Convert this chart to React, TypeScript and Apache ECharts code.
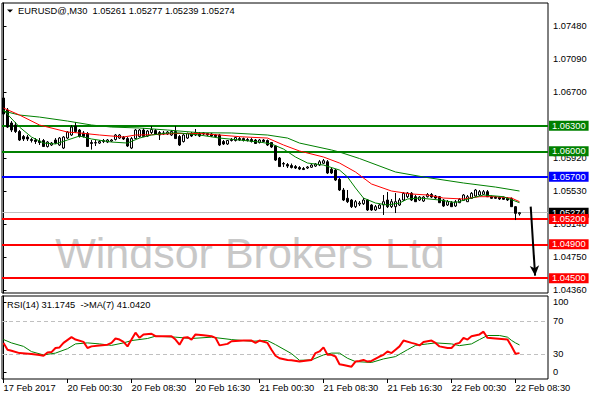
import React, { useEffect, useRef } from 'react';
import * as echarts from 'echarts';

const FONT = "'Liberation Sans', Arial, sans-serif";
const FS = 9.3;

const symbolName = 'EURUSD@,M30';
const headerOHLC = ['1.05261', '1.05277', '1.05239', '1.05274'];
const rsiHeader = 'RSI(14) 31.1745  ->MA(7) 41.0420';
const watermark = 'Windsor Brokers Ltd';

const timeLabels = ['17 Feb 2017', '20 Feb 00:30', '20 Feb 08:30', '20 Feb 16:30', '21 Feb 00:30', '21 Feb 08:30', '21 Feb 16:30', '22 Feb 00:30', '22 Feb 08:30'];
const timeLabelBars = [0, 16, 32, 48, 64, 80, 96, 112, 128];

const priceTicks = [1.0436, 1.0475, 1.0514, 1.0553, 1.0592, 1.0631, 1.067, 1.0709, 1.0748];
const rsiLabelPos = [8.4, 30, 70, 92.8];
const rsiLabelText = ['0', '30', '70', '100'];
const rsiLevels = [70, 30];

const levelPrices = [1.063, 1.06, 1.057, 1.052, 1.049, 1.045];
const levelColors = ['#008000', '#008000', '#0000ff', '#ff0000', '#ff0000', '#ff0000'];
const lastPrice = 1.05274;
const arrowFrom = [131.8, 1.05345];
const arrowTo = [132.9, 1.0453];

const openP = [
  1.06629, 1.06487, 1.06334, 1.0631, 1.06233, 1.06174, 1.06168, 1.06139, 1.06133, 1.06121,
  1.06127, 1.06056, 1.06074, 1.06133, 1.06074, 1.06038, 1.06156, 1.06192, 1.06298, 1.06251,
  1.06216, 1.0621, 1.06103, 1.06097, 1.06097, 1.06115, 1.06109, 1.06121, 1.06139, 1.06156,
  1.06168, 1.0615, 1.06038, 1.0615, 1.06174, 1.06251, 1.0618, 1.06221, 1.06245, 1.06221,
  1.06216, 1.06204, 1.06192, 1.06233, 1.06174, 1.06115, 1.06156, 1.0621, 1.06192, 1.0621,
  1.06216, 1.0621, 1.06204, 1.06192, 1.06192, 1.06115, 1.06086, 1.06139, 1.06127, 1.0615,
  1.0615, 1.06139, 1.06139, 1.06133, 1.06103, 1.06133, 1.06127, 1.06103, 1.06062, 1.0592,
  1.05855, 1.05843, 1.05831, 1.05819, 1.05808, 1.05796, 1.05802, 1.05811, 1.05825, 1.05837,
  1.05858, 1.05876, 1.05787, 1.05778, 1.05668, 1.05542, 1.05444, 1.05424, 1.05345, 1.05376,
  1.0538, 1.05424, 1.05365, 1.05306, 1.05325, 1.05365, 1.05424, 1.05345, 1.05345, 1.05365,
  1.05424, 1.05463, 1.05503, 1.05463, 1.05424, 1.05412, 1.05463, 1.05489, 1.05471, 1.05463,
  1.05424, 1.05365, 1.05392, 1.05353, 1.05392, 1.0542, 1.05404, 1.05443, 1.05471, 1.05483,
  1.05491, 1.05522, 1.05463, 1.05459, 1.05456, 1.05456, 1.05444, 1.05444, 1.05345, 1.05261,
];
const closeP = [
  1.0644, 1.06286, 1.06251, 1.06233, 1.06133, 1.06145, 1.06145, 1.06127, 1.06115, 1.06103,
  1.06056, 1.06109, 1.06097, 1.06097, 1.06156, 1.06168, 1.06227, 1.06286, 1.06233, 1.06174,
  1.06174, 1.06056, 1.06092, 1.06103, 1.06115, 1.06127, 1.06133, 1.06133, 1.06192, 1.06192,
  1.06145, 1.06062, 1.0615, 1.06251, 1.06251, 1.06174, 1.06239, 1.06257, 1.06204, 1.06192,
  1.06204, 1.06227, 1.06233, 1.0615, 1.06074, 1.06192, 1.0621, 1.0618, 1.06221, 1.0618,
  1.06204, 1.06192, 1.0618, 1.06174, 1.06074, 1.06086, 1.06127, 1.06127, 1.06162, 1.06133,
  1.06127, 1.06127, 1.06115, 1.06092, 1.06133, 1.06115, 1.06074, 1.0605, 1.05896, 1.05819,
  1.05849, 1.05825, 1.05808, 1.05802, 1.0579, 1.05784, 1.05814, 1.05837, 1.05849, 1.05876,
  1.05888, 1.05743, 1.05743, 1.0566, 1.05542, 1.05424, 1.05404, 1.05345, 1.05404, 1.05388,
  1.05424, 1.05306, 1.05306, 1.05345, 1.05365, 1.05404, 1.05345, 1.05404, 1.05404, 1.05424,
  1.05503, 1.05506, 1.05424, 1.05404, 1.05459, 1.05459, 1.05489, 1.05459, 1.05447, 1.05392,
  1.05353, 1.05404, 1.05345, 1.05404, 1.05432, 1.05483, 1.05463, 1.05503, 1.05542, 1.05522,
  1.05522, 1.05463, 1.05444, 1.05444, 1.05436, 1.05432, 1.05424, 1.05345, 1.05266, 1.05274,
];
const lowP = [
  1.06416, 1.06275, 1.06227, 1.06216, 1.06121, 1.06121, 1.06121, 1.06103, 1.06086, 1.06074,
  1.0605, 1.06044, 1.06062, 1.06086, 1.06062, 1.06026, 1.06145, 1.0618, 1.06216, 1.06162,
  1.06162, 1.0605, 1.0602, 1.06062, 1.06086, 1.06097, 1.06097, 1.06109, 1.06127, 1.06145,
  1.06133, 1.0605, 1.06026, 1.06145, 1.06162, 1.06168, 1.06168, 1.06204, 1.06192, 1.06133,
  1.06192, 1.06192, 1.0618, 1.06145, 1.06062, 1.06103, 1.06145, 1.06168, 1.0618, 1.06168,
  1.06192, 1.0618, 1.06168, 1.06162, 1.06062, 1.06074, 1.06074, 1.06115, 1.06115, 1.06121,
  1.06115, 1.06115, 1.06103, 1.06086, 1.06092, 1.06109, 1.06062, 1.06038, 1.05885, 1.05814,
  1.05814, 1.05802, 1.05796, 1.0579, 1.05778, 1.05778, 1.0579, 1.05802, 1.05814, 1.05825,
  1.05849, 1.05731, 1.05731, 1.05648, 1.0553, 1.05412, 1.05388, 1.05329, 1.05329, 1.05353,
  1.05365, 1.05294, 1.05294, 1.05294, 1.05317, 1.05247, 1.05329, 1.05329, 1.0527, 1.05353,
  1.05412, 1.05447, 1.05412, 1.054, 1.05412, 1.054, 1.05453, 1.05447, 1.05436, 1.05388,
  1.05341, 1.05353, 1.05341, 1.05341, 1.05388, 1.05412, 1.054, 1.05436, 1.05459, 1.05471,
  1.05483, 1.05459, 1.05436, 1.05436, 1.05424, 1.05424, 1.05412, 1.05341, 1.05187, 1.05239,
];
const highP = [
  1.06665, 1.06511, 1.06357, 1.06346, 1.06251, 1.06192, 1.06192, 1.06156, 1.06156, 1.06156,
  1.06145, 1.06121, 1.06109, 1.06156, 1.06168, 1.0618, 1.06239, 1.0631, 1.06346, 1.06263,
  1.06239, 1.06227, 1.06133, 1.06133, 1.06133, 1.06145, 1.06145, 1.06145, 1.06204, 1.06204,
  1.0618, 1.06168, 1.06168, 1.06263, 1.06263, 1.06275, 1.06251, 1.06298, 1.06263, 1.06239,
  1.06239, 1.06239, 1.06251, 1.06298, 1.06192, 1.06204, 1.06221, 1.06227, 1.06263, 1.06227,
  1.06227, 1.06216, 1.06216, 1.06204, 1.06204, 1.06133, 1.06133, 1.06156, 1.06168, 1.06168,
  1.06162, 1.06156, 1.06156, 1.06145, 1.06145, 1.06145, 1.06139, 1.06109, 1.06074, 1.05932,
  1.05873, 1.05861, 1.05855, 1.05837, 1.05825, 1.05814, 1.05825, 1.05849, 1.05861, 1.05896,
  1.05908, 1.05896, 1.05802, 1.0579, 1.05684, 1.05566, 1.05542, 1.05436, 1.05424, 1.05412,
  1.05447, 1.05436, 1.05376, 1.05365, 1.05376, 1.05483, 1.05518, 1.05436, 1.05506, 1.05447,
  1.05518, 1.05518, 1.05518, 1.05483, 1.05471, 1.05471, 1.05506, 1.05506, 1.05483, 1.05471,
  1.05436, 1.05424, 1.05412, 1.05424, 1.05447, 1.05495, 1.05483, 1.05518, 1.05554, 1.05542,
  1.05542, 1.05542, 1.05477, 1.05471, 1.05471, 1.05465, 1.05459, 1.05453, 1.05353, 1.05277,
];

const maRed = [
  [0, 1.06511], [4, 1.06428], [9, 1.0631], [16, 1.06227], [19, 1.06216], [24, 1.06192], [30, 1.06168],
  [33, 1.06192], [37, 1.06195], [43, 1.0621], [49, 1.0621], [54, 1.06192], [59, 1.06172], [66, 1.06156],
  [70, 1.06074], [74, 1.06003], [80, 1.05932], [84, 1.05861], [88, 1.05755], [92, 1.05613], [97, 1.0553],
  [102, 1.05495], [106, 1.05483], [110, 1.05447], [115, 1.05436], [119, 1.05463], [123, 1.05463],
  [127, 1.05447], [129, 1.05404],
];
const maFast = [
  [0, 1.06487], [4, 1.06286], [7, 1.06168], [10, 1.06097], [13, 1.06086], [16, 1.06133], [19, 1.0618],
  [22, 1.06145], [27, 1.06109], [31, 1.06097], [34, 1.06156], [37, 1.06192], [41, 1.06216], [44, 1.06216],
  [49, 1.06192], [54, 1.06156], [59, 1.06133], [64, 1.06109], [67, 1.06086], [70, 1.06026], [73, 1.05932],
  [76, 1.05861], [80, 1.05837], [84, 1.05778], [86, 1.05696], [88, 1.05566], [90, 1.05447], [93, 1.05388],
  [96, 1.05365], [99, 1.05388], [101, 1.05436], [104, 1.05447], [109, 1.05424], [113, 1.05394],
  [117, 1.05447], [120, 1.05483], [125, 1.05463], [129, 1.05392],
];
const maSlow = [
  [0, 1.06475], [4, 1.06428], [9, 1.06404], [16, 1.06357], [22, 1.0631], [27, 1.06286], [34, 1.06275],
  [41, 1.06251], [49, 1.06219], [57, 1.06216], [66, 1.06192], [71, 1.06156], [74, 1.06097], [82, 1.06015],
  [84, 1.05991], [89, 1.05914], [98, 1.05755], [105, 1.05696], [115, 1.05625], [123, 1.05577], [129, 1.0553],
];

const rsiValues = [
  [0, 43.5], [1, 35.3], [2, 34], [4, 31.2], [7, 30], [9, 29], [10, 28], [11, 32], [12, 32.4], [13, 37.4],
  [14, 38], [15, 43.5], [17, 50.4], [18, 47.5], [20, 44.7], [21, 37.4], [22, 39.3], [24, 40.5], [26, 41.4],
  [27, 43.5], [28, 48.8], [29, 47.5], [30, 44.7], [31, 39.3], [32, 47.5], [33, 55.8], [34, 49.6], [35, 53.7],
  [37, 54.5], [38, 51.6], [40, 51.6], [42, 51.6], [43, 47.5], [44, 41.4], [45, 49.6], [46, 50.4], [47, 47.5],
  [48, 53.7], [50, 52.8], [52, 51.6], [53, 49.6], [54, 40.5], [56, 42.3], [57, 45.5], [60, 46.3], [62, 46.3],
  [63, 43.5], [64, 46.3], [66, 43.5], [67, 35.3], [68, 28], [69, 25], [71, 23], [72, 22.6], [74, 21],
  [75, 21.8], [77, 23], [78, 31.2], [79, 33.2], [80, 38.1], [81, 29.1], [82, 29.1], [83, 27.1], [84, 17.7],
  [85, 16.9], [87, 14.8], [88, 21], [89, 21.8], [90, 23], [91, 21], [92, 21.8], [94, 27.1], [95, 29.1],
  [96, 33.2], [97, 31.2], [98, 35.3], [99, 39.3], [100, 46.3], [102, 43.5], [103, 42.3], [104, 40.5],
  [105, 44.7], [107, 46.3], [108, 43.5], [109, 39.3], [111, 37.4], [112, 37.4], [113, 42.3], [114, 43.5],
  [115, 49.6], [116, 47.5], [117, 51.6], [119, 53.7], [120, 57], [121, 49.6], [123, 48.8], [126, 47.5],
  [127, 39.5], [128, 30.5], [129, 31.17],
];
const rsiMaValues = [
  [0, 47.5], [2, 43.5], [5, 39.3], [7, 33], [10, 29], [13, 31.2], [16, 36.5], [18, 42.3], [21, 43.5],
  [24, 42.3], [27, 40.5], [30, 43.5], [32, 46.3], [36, 48.8], [38, 51.6], [43, 50.4], [47, 48.8], [52, 50.4],
  [57, 47.5], [62, 45.5], [66, 46.3], [68, 41.4], [72, 30.6], [74, 22.5], [77, 23], [80, 29], [82, 31.2],
  [84, 31.2], [86, 25], [88, 21], [92, 19.9], [95, 24.2], [98, 27], [101, 35.3], [103, 40.5], [106, 42.3],
  [108, 43.5], [112, 42.3], [114, 40.2], [117, 42.3], [119, 47.5], [121, 52.4], [124, 52.4], [126, 50.4],
  [127, 46.5], [128, 43.5], [129, 41.04],
];

const X_MIN = -0.375;
const X_MAX = 136.125;
const Y_MIN = 1.04325;
const Y_MAX = 1.07752;

export default function App() {
  const ref = useRef<HTMLDivElement>(null);
  useEffect(() => {
    if (!ref.current) return;
    const chart = echarts.init(ref.current, undefined, { renderer: 'svg' });
    const candleData = openP.map((o, i) => [i, o, closeP[i], lowP[i], highP[i]]);
    const levelLabel = {
      show: true,
      position: 'end',
      distance: 1,
      color: '#ffffff',
      fontSize: FS,
      fontFamily: FONT,
      lineHeight: 10,
      padding: [0, 3, 0, 3],
      formatter: (p: any) => Number(p.value).toFixed(5),
    };
    const option: any = {
      animation: false,
      backgroundColor: '#ffffff',
      textStyle: { fontFamily: FONT },
      grid: [
        { left: 2, top: 3, width: 546, height: 290, show: true, borderColor: '#000', borderWidth: 1, backgroundColor: 'transparent' },
        { left: 2, top: 296, width: 546, height: 83, show: true, borderColor: '#000', borderWidth: 1, backgroundColor: 'transparent' },
      ],
      xAxis: [
        { type: 'value', gridIndex: 0, min: X_MIN, max: X_MAX, show: false },
        {
          type: 'value', gridIndex: 1, min: X_MIN, max: X_MAX,
          axisLine: { show: false }, splitLine: { show: false },
          axisTick: { show: true, customValues: timeLabelBars, length: 4, lineStyle: { color: '#000' } },
          axisLabel: {
            show: true, customValues: timeLabelBars, align: 'left', color: '#000', fontSize: FS, fontFamily: FONT, margin: 4,
            showMinLabel: true, showMaxLabel: true, hideOverlap: false,
            formatter: (v: number) => timeLabels[timeLabelBars.indexOf(Math.round(v))] ?? '',
          },
        },
      ],
      yAxis: [
        {
          type: 'value', gridIndex: 0, position: 'right', min: Y_MIN, max: Y_MAX,
          axisLine: { show: true, lineStyle: { color: '#000' } },
          axisTick: { show: true, length: 3, customValues: priceTicks, lineStyle: { color: '#000' } },
          axisLabel: { customValues: priceTicks, formatter: (v: number) => v.toFixed(5), color: '#000', fontSize: FS, fontFamily: FONT, margin: 5, showMinLabel: true, showMaxLabel: true },
          splitLine: { show: false },
        },
        {
          type: 'value', gridIndex: 1, position: 'right', min: 0, max: 100,
          axisLine: { show: true, lineStyle: { color: '#000' } },
          axisTick: { show: true, length: 3, customValues: rsiLabelPos, lineStyle: { color: '#000' } },
          axisLabel: {
            customValues: rsiLabelPos, color: '#000', fontSize: FS, fontFamily: FONT, margin: 5, showMinLabel: true, showMaxLabel: true,
            formatter: (v: number) => {
              const idx = rsiLabelPos.findIndex((p) => Math.abs(p - v) < 0.01);
              return idx >= 0 ? rsiLabelText[idx] : '';
            },
          },
          splitLine: { show: false },
        },
      ],
      series: [
        {
          type: 'candlestick',
          xAxisIndex: 0, yAxisIndex: 0,
          data: candleData,
          encode: { x: 0, y: [1, 2, 3, 4] },
          barWidth: 3,
          z: 2,
          itemStyle: { color: '#ffffff', color0: '#000000', borderColor: '#000000', borderColor0: '#000000', borderWidth: 1 },
          markLine: {
            silent: true,
            z: 1,
            precision: 5,
            symbol: ['none', 'none'],
            label: levelLabel,
            data: [
              { yAxis: lastPrice, lineStyle: { color: '#c0c0c0', width: 1, type: 'solid' }, label: { backgroundColor: '#000000' } },
              ...levelPrices.map((p, i) => ({
                yAxis: p,
                lineStyle: { color: levelColors[i], width: 2, type: 'solid' },
                label: { backgroundColor: levelColors[i] },
              })),
              [
                { coord: arrowFrom, symbol: 'none', lineStyle: { color: '#000', width: 2, type: 'solid' }, label: { show: false } },
                { coord: arrowTo, symbol: 'arrow', symbolSize: [7, 10] },
              ],
            ],
          },
        },
        { type: 'line', xAxisIndex: 0, yAxisIndex: 0, data: maSlow, showSymbol: false, symbol: 'none', z: 3, lineStyle: { color: '#008000', width: 1 } },
        { type: 'line', xAxisIndex: 0, yAxisIndex: 0, data: maRed, showSymbol: false, symbol: 'none', z: 3, lineStyle: { color: '#ff0000', width: 1 } },
        { type: 'line', xAxisIndex: 0, yAxisIndex: 0, data: maFast, showSymbol: false, symbol: 'none', z: 3, lineStyle: { color: '#008000', width: 1 } },
        {
          type: 'line', xAxisIndex: 1, yAxisIndex: 1, data: rsiMaValues, showSymbol: false, symbol: 'none', z: 3,
          lineStyle: { color: '#008000', width: 1 },
        },
        {
          type: 'line', xAxisIndex: 1, yAxisIndex: 1, data: rsiValues, showSymbol: false, symbol: 'none', z: 3,
          lineStyle: { color: '#ff0000', width: 2 },
          markLine: {
            silent: true, z: 1, symbol: ['none', 'none'], label: { show: false },
            lineStyle: { color: '#c0c0c0', width: 1, type: [4, 3] },
            data: rsiLevels.map((v) => ({ yAxis: v })),
          },
        },
      ],
      graphic: [
        { type: 'text', x: 250, y: 253, z: 0, silent: true, style: { text: watermark, fill: '#c8c8c8', fontSize: 43, fontFamily: FONT, align: 'center', verticalAlign: 'middle' } },
        { type: 'polygon', z: 10, shape: { points: [[7, 9.5], [13, 9.5], [10, 12.5]] }, style: { fill: '#000' } },
        { type: 'text', x: 18, y: 11, z: 10, style: { text: `${symbolName}  ${headerOHLC.join(' ')}`, fill: '#000', fontSize: FS, fontFamily: FONT, verticalAlign: 'middle' } },
        { type: 'text', x: 7, y: 304.5, z: 10, style: { text: rsiHeader, fill: '#000', fontSize: FS, fontFamily: FONT, verticalAlign: 'middle' } },
      ],
    };
    chart.setOption(option);
    return () => chart.dispose();
  }, []);
  return <div ref={ref} style={{ position: 'fixed', left: 0, top: 0, width: 590, height: 400, background: '#fff' }} />;
}
